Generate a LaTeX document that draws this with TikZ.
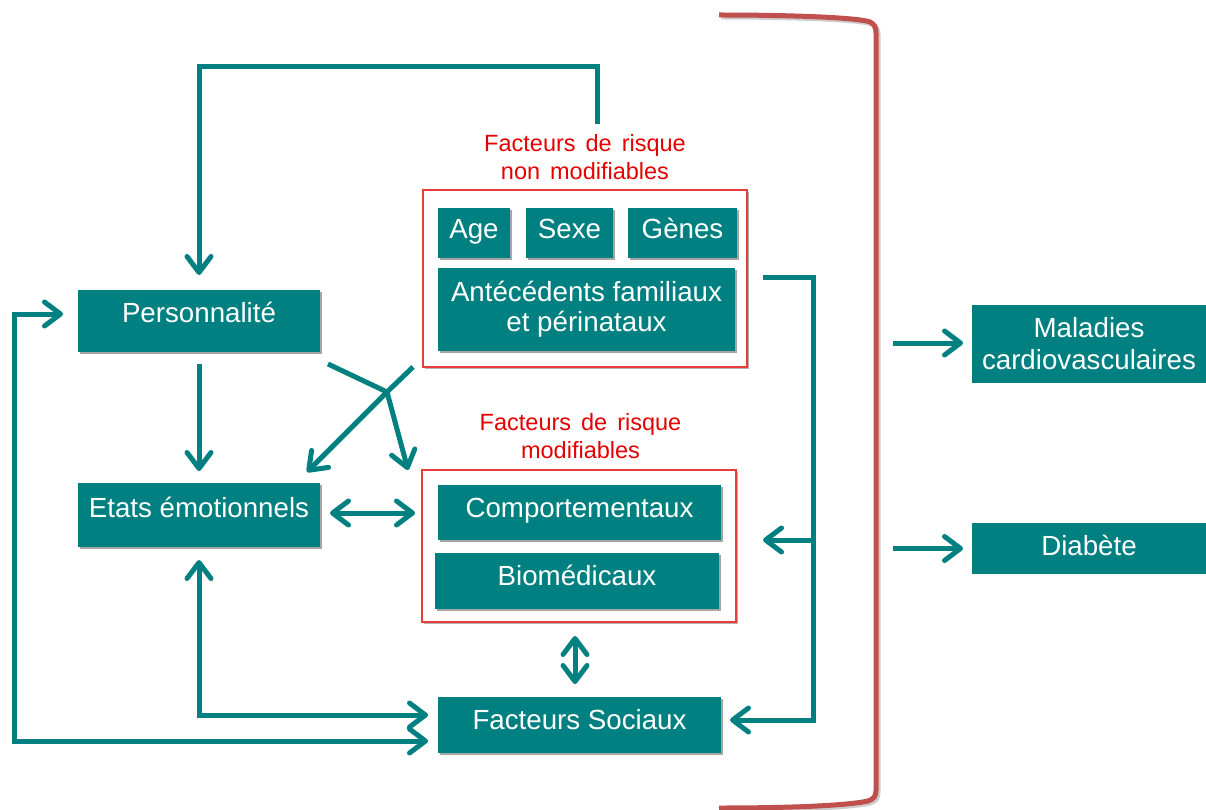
\documentclass[tikz,border=0pt]{standalone}
\usepackage{fontspec}
\setmainfont{Liberation Sans}
\usetikzlibrary{arrows.meta,calc,shadows}
\definecolor{tealc}{RGB}{0,128,128}
\definecolor{brk}{RGB}{192,80,77}
\definecolor{frm}{RGB}{235,60,60}
\definecolor{ttlc}{RGB}{228,0,0}
\newcommand{\bt}[2]{\smash{\raisebox{#1}{#2}}}
\newcommand{\ttlfont}{\fontsize{23.5}{28}\selectfont\spaceskip 10pt plus 1pt\relax}
\begin{document}
\begin{tikzpicture}[x=1pt,y=-1pt,
  box/.style={fill=tealc, text=white, inner sep=0pt, outer sep=0pt,
    font=\fontsize{27.7}{31}\selectfont,
    drop shadow={shadow xshift=2pt, shadow yshift=-2pt, fill=black, opacity=0.35}},
  endbox/.style={fill=tealc, text=white, inner sep=0pt, outer sep=0pt,
    font=\fontsize{27.7}{32}\selectfont},
  frame/.style={draw=frm, line width=1.2pt, fill=white, inner sep=0pt, outer sep=0pt,
    drop shadow={shadow xshift=2pt, shadow yshift=-2pt, fill=black, opacity=0.3}},
  ttl/.style={text=ttlc, font=\ttlfont, align=center, inner sep=0pt},
  conn/.style={tealc, line width=5pt},
  >={Straight Barb[length=16pt,width=24pt,round]}
]
\useasboundingbox (0,0) rectangle (1206,810);

% bracket
\draw[black, opacity=0.2, line width=5pt, shift={(2,2)}] (719,15) .. controls (800,15) and (860,18) .. (870,22) .. controls (874,24) and (876,27) .. (876,33) -- (876,790) .. controls (876,796) and (874,799) .. (868,801) .. controls (850,805) and (800,808) .. (719,808);
\draw[brk, line width=5pt] (719,15) .. controls (800,15) and (860,18) .. (870,22) .. controls (874,24) and (876,27) .. (876,33) -- (876,790) .. controls (876,796) and (874,799) .. (868,801) .. controls (850,805) and (800,808) .. (719,808);

% frames
\node[frame, minimum width=324, minimum height=177] (fnm) at (585,278.5) {};
\node[frame, minimum width=314, minimum height=152] (fm) at (579,546) {};

% titles
\node[ttl] (tnm) at (585,157.5) {Facteurs de risque\\non modifiables};
\node[ttl] (tm) at (580.5,436.5) {Facteurs de risque\\modifiables};

% boxes
\node[box, minimum width=242, minimum height=62] (pers) at (199,321) {\bt{-1pt}{Personnalité}};
\node[box, minimum width=242, minimum height=64] (etats) at (199,515) {\bt{-2pt}{Etats émotionnels}};
\node[box, minimum width=72, minimum height=50] (age) at (474,233) {\bt{-6pt}{Age}};
\node[box, minimum width=87, minimum height=50] (sexe) at (569.5,233) {\bt{-6pt}{Sexe}};
\node[box, minimum width=109, minimum height=50] (genes) at (682.5,233) {\bt{-6pt}{Gènes}};
\node[box, minimum width=297, minimum height=83, align=center, font=\fontsize{27.7}{30}\selectfont] (ante) at (586.5,309.5) {Antécédents familiaux\\et périnataux};
\node[box, minimum width=283, minimum height=55] (comp) at (579.5,512.5) {\bt{-4.5pt}{Comportementaux}};
\node[box, minimum width=284, minimum height=56] (bio) at (577,581) {\bt{-4pt}{Biomédicaux}};
\node[box, minimum width=283, minimum height=56] (soc) at (579.5,725) {\bt{-4pt}{Facteurs Sociaux}};
\node[endbox, minimum width=234, minimum height=78, align=center] (mal) at (1089,344) {Maladies\\cardiovasculaires};
\node[endbox, minimum width=234, minimum height=51] (diab) at (1089,548.5) {\bt{-6.5pt}{Diabète}};

% connectors
\coordinate (topstart) at ($(tnm.north)+(12,-11)$);
\draw[conn,->] (topstart) -- ++(0,-57) -| ($(pers.north)+(0,-15)$);
\draw[conn,<->] ($(pers.west)+(-15,-7)$) -- ++(-49,0) |- ($(soc.west)+(-10,16)$);
\draw[conn,<->] ($(etats.south)+(0,13)$) |- ($(soc.west)+(-10,-10)$);
\draw[conn,->] ($(pers.south)+(0,12)$) -- ($(etats.north)+(0,-12)$);
\coordinate (j) at (387,392);
\draw[conn,->] ($(pers.south east)+(8,12)$) -- (j) -- ($(fm.north west)+(-14,0)$);
\draw[conn,->] ($(fnm.south west)+(-10,0)$) -- (j) -- ($(etats.north east)+(-13,-11)$);
\draw[conn,<->] ($(etats.east)+(10,-2)$) -- ($(comp.west)+(-23,0.5)$);
\draw[conn,<->] ($(fm.south)+(-4,14)$) -- ($(soc.north)+(-4.5,-13)$);
\coordinate (rs) at ($(fnm.east)+(16,-1.5)$);
\draw[conn,->] (rs) -- ++(50,0) |- ($(soc.east)+(9,-5)$);
\draw[conn,->] ($(fm.east)+(77,-6)$) -- ($(fm.east)+(27,-6)$);
\draw[conn,->] ($(mal.west)+(-79,-1)$) -- ($(mal.west)+(-9,-1)$);
\draw[conn,->] ($(diab.west)+(-79,0)$) -- ($(diab.west)+(-9,0)$);
\end{tikzpicture}
\end{document}
